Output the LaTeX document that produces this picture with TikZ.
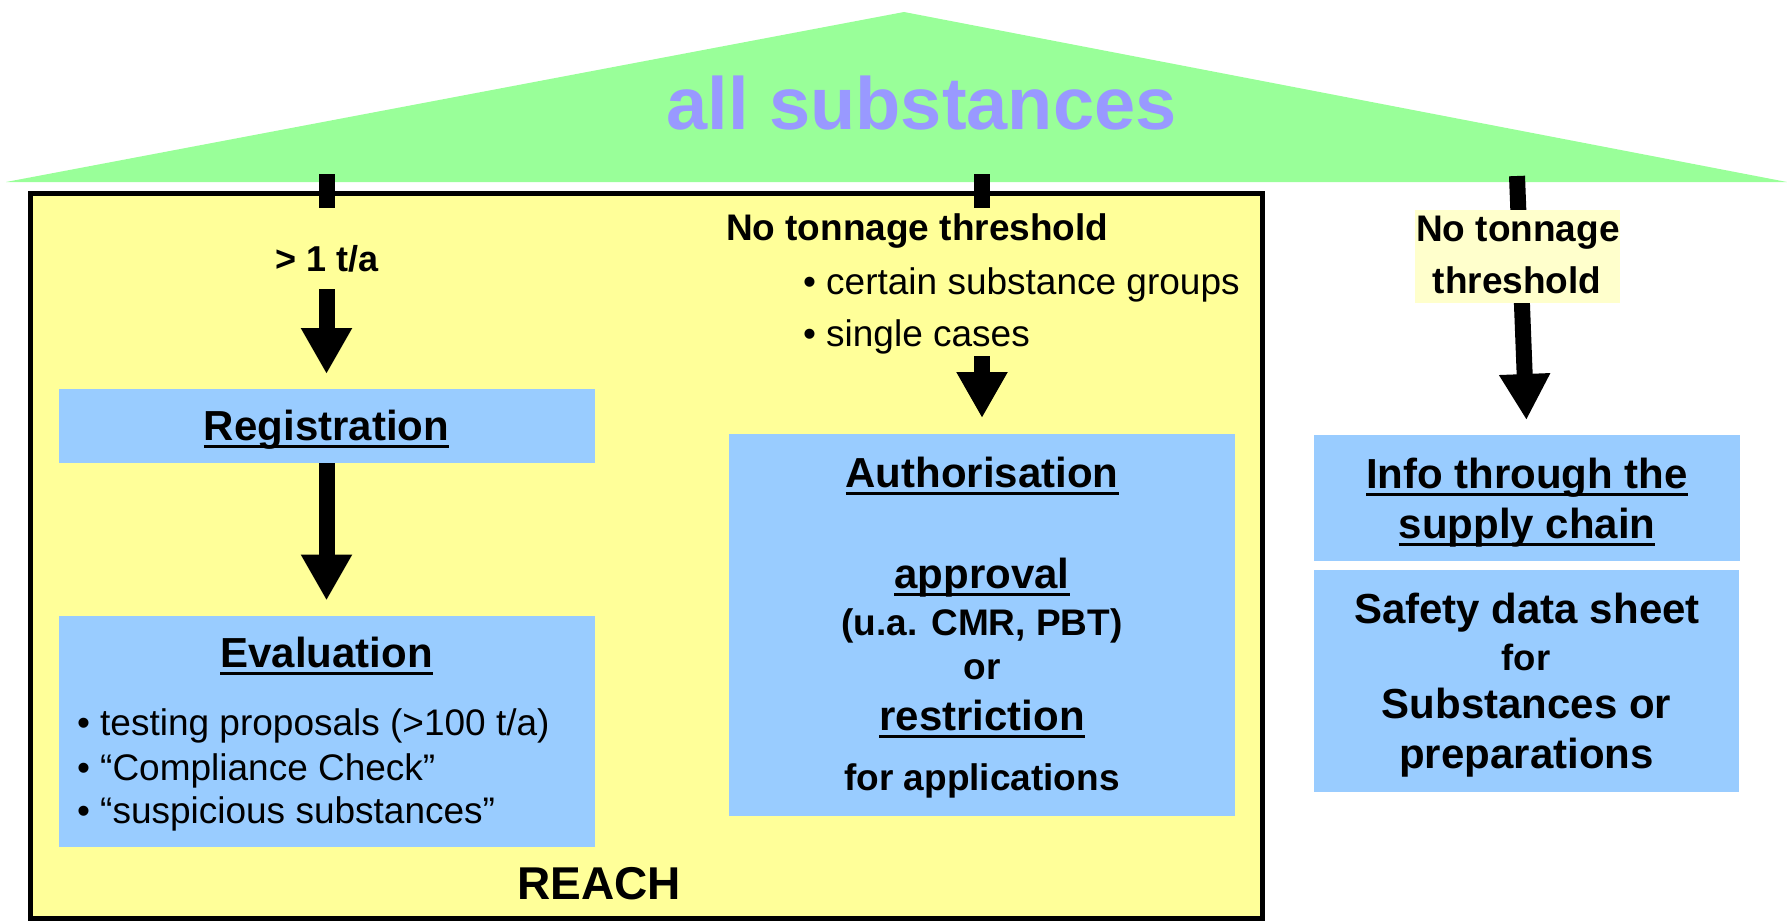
\documentclass[tikz,border=0pt]{standalone}
\usepackage{fontspec}
\setmainfont{Liberation Sans}
\usetikzlibrary{arrows.meta}
\definecolor{trigreen}{HTML}{99FF99}
\definecolor{reachyellow}{HTML}{FFFF99}
\definecolor{boxblue}{HTML}{99CCFF}
\definecolor{labelyellow}{HTML}{FFFFCC}
\definecolor{lavender}{HTML}{9999FF}
\newsavebox{\ulsave}
\newcommand{\ulx}[1]{\sbox{\ulsave}{#1}\rlap{\rule[-7.5pt]{\wd\ulsave}{3pt}}\usebox{\ulsave}}
\newcommand{\fsz}[1]{\fontsize{#1}{#1}\selectfont}
\begin{document}
\begin{tikzpicture}[x=1pt,y=-1pt,
  every node/.style={inner sep=0pt, outer sep=0pt},
  reachbox/.style={draw=black, line width=5pt, fill=reachyellow},
  bluebox/.style={fill=boxblue, draw=none},
  labelbox/.style={fill=labelyellow, draw=none},
  bigarrow/.style={line width=16pt, -{Triangle[width=48pt,length=46pt]}},
  tickbar/.style={line width=16pt},
  title/.style={anchor=base, font={\bfseries\fsz{42}}},
  sub/.style={anchor=base, font={\bfseries\fsz{37}}},
  bullet/.style={anchor=base west, font={\fsz{37}}}
]
\useasboundingbox (0,0) rectangle (1787,923);
% roof
\fill[trigreen] (6,182) -- (904,12) -- (1787,182) -- cycle;
\node[anchor=base, font={\bfseries\fsz{74}}, text=lavender] (allsub) at (921.5,130) {all substances};
% REACH frame
\node[reachbox, minimum width=1232pt, minimum height=725pt] (reach) at (646,555.5) {};
% ticks from roof
\coordinate (tlA) at (327,174); \coordinate (tlB) at (327,208);
\coordinate (tmA) at (982,174); \coordinate (tmB) at (982,208);
\draw[tickbar] (tlA) -- (tlB);
\draw[tickbar] (tmA) -- (tmB);
% blue boxes
\node[bluebox, minimum width=536pt, minimum height=74pt] (reg) at (326.5,426) {};
\node[bluebox, minimum width=536pt, minimum height=231pt] (eval) at (326.5,731) {};
\node[bluebox, minimum width=506pt, minimum height=382pt] (auth) at (982,625) {};
\node[bluebox, minimum width=426pt, minimum height=126pt] (info) at (1527,498) {};
\node[bluebox, minimum width=425pt, minimum height=222pt] (sds) at (1526.5,681) {};
% arrows
\coordinate (aL) at (326.5,289);
\coordinate (aM) at (982,356);
\coordinate (aR) at (1517,176);
\draw[bigarrow, shorten >=15pt] (aL) -- (reg.north);
\draw[bigarrow, shorten >=15pt] (reg.south) -- (eval.north);
\draw[bigarrow, shorten >=16pt] (aM) -- (auth.north);
\draw[bigarrow, shorten >=15pt] (aR) -- (info.north);
% right label
\node[labelbox, minimum width=205pt, minimum height=93pt] (lbl) at (1517.5,256.5) {};
\node[sub] (nt1) at (1518,241.5) {No tonnage};
\node[sub] (nt2) at (1517,293.5) {threshold};
% left column text
\node[anchor=base, font={\bfseries\fsz{36}}] (t1) at (327,271.7) {> 1 t/a};
\node[title] (regt) at (326.5,440.7) {\ulx{Registration}};
\node[title] (evt) at (326.5,667) {\ulx{Evaluation}};
\node[bullet] (e1) at (77,735) {• testing proposals (>100 t/a)};
\node[bullet] (e2) at (77,780) {• “Compliance Check”};
\node[bullet] (e3) at (77,823.5) {• “suspicious substances”};
\node[anchor=base, font={\bfseries\fsz{46}}] (reacht) at (599,899.3) {REACH};
% middle column text
\node[anchor=base west, font={\bfseries\fsz{37}}] (notm) at (726,240) {No tonnage threshold};
\node[bullet] (b1) at (803,294) {• certain substance groups};
\node[bullet] (b2) at (803,346.7) {• single cases};
\node[title] (autht) at (982,487.3) {\ulx{Authorisation}};
\node[title] (appr) at (982,588) {\ulx{approval}};
\node[sub] (cmr) at (982,635) {(u.a. CMR, PBT)};
\node[sub] (ort) at (982,679) {or};
\node[title] (restr) at (982,730) {\ulx{restriction}};
\node[sub] (forapp) at (982,790) {for applications};
% right column text
\node[title] (info1) at (1527,488) {\ulx{Info through the}};
\node[title] (info2) at (1527,538) {\ulx{supply chain}};
\node[title] (sds1) at (1527,623) {Safety data sheet};
\node[anchor=base, font={\bfseries\fsz{36.5}}] (sds2) at (1526,670) {for};
\node[title] (sds3) at (1526.5,718) {Substances or};
\node[title] (sds4) at (1526.5,768) {preparations};
\end{tikzpicture}
\end{document}
